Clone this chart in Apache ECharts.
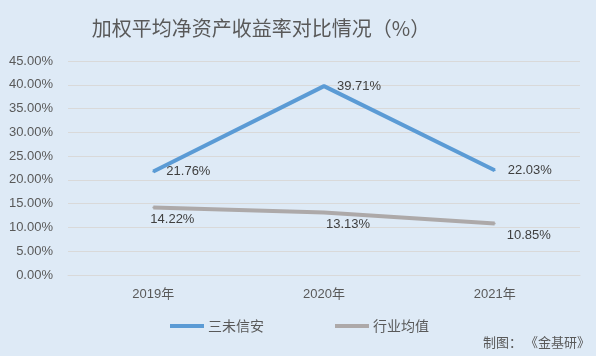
<!DOCTYPE html>
<html><head><meta charset="utf-8">
<script src="https://cdn.jsdelivr.net/npm/echarts@6/dist/echarts.min.js"></script>
<style>html,body{margin:0;padding:0;background:#DEEAF6;}#c{width:596px;height:356px;}</style>
</head><body><div id="c"></div>
<script>
var categories = ['2019年', '2020年', '2021年'];
var sanwei = [21.76, 39.71, 22.03];
var industry = [14.22, 13.13, 10.85];
var seriesNames = ['三未信安', '行业均值'];
var titleText = '加权平均净资产收益率对比情况（%）';
var sourceText = '制图： 《金基研》';

var font = '"Liberation Sans", "Noto Sans CJK SC", sans-serif';
var chart = echarts.init(document.getElementById('c'), null, {renderer: 'canvas'});
var grayOffsets = [[-3, -1], [2, -2], [12, -1]];
chart.setOption({
  backgroundColor: '#DEEAF6',
  animation: false,
  title: {
    text: titleText, left: 256, top: 13, textAlign: 'center',
    textStyle: {fontFamily: '"Noto Sans CJK SC", sans-serif', fontSize: 20, fontWeight: 'normal', color: '#595959'}
  },
  graphic: [{
    type: 'text', right: 6, top: 336,
    style: {text: sourceText, fontFamily: '"Noto Sans CJK SC", sans-serif', fontSize: 13, fill: '#595959'}
  }],
  legend: {
    data: seriesNames, left: 165, top: 314, itemWidth: 34, itemHeight: 4, itemGap: 71,
    icon: 'rect',
    textStyle: {fontFamily: '"Noto Sans CJK SC", sans-serif', fontSize: 14, color: '#595959', padding: [0,0,0,-1]}
  },
  grid: {left: 68, right: 16, top: 61, bottom: 81, containLabel: false},
  xAxis: {
    type: 'category', data: categories,
    axisLine: {lineStyle: {color: '#D9D9D9'}}, axisTick: {show: false},
    axisLabel: {fontFamily: font, fontSize: 13, color: '#595959', margin: 13}
  },
  yAxis: {
    type: 'value', min: 0, max: 45, interval: 5,
    axisLine: {show: false}, axisTick: {show: false},
    splitLine: {lineStyle: {color: '#D9D9D9'}},
    axisLabel: {fontFamily: font, fontSize: 13, color: '#595959', margin: 15,
      formatter: function (v) { return v.toFixed(2) + '%'; }}
  },
  series: [{
    name: seriesNames[0], type: 'line', data: sanwei,
    symbol: 'circle', symbolSize: 2, showSymbol: true,
    lineStyle: {width: 4, color: '#5B9BD5'}, itemStyle: {color: '#5B9BD5'},
    label: {show: true, position: 'right', distance: 12, fontFamily: font, fontSize: 13, color: '#404040',
      formatter: function (p) { return p.value.toFixed(2) + '%'; }}
  }, {
    name: seriesNames[1], type: 'line',
    data: industry.map(function (v, i) { return {value: v, label: {offset: grayOffsets[i]}}; }),
    symbol: 'circle', symbolSize: 2, showSymbol: true,
    lineStyle: {width: 4, color: '#ADA9A9'}, itemStyle: {color: '#ADA9A9'},
    label: {show: true, position: 'bottom', distance: 6, fontFamily: font, fontSize: 13, color: '#404040',
      align: 'left', formatter: function (p) { return p.value.toFixed(2) + '%'; }}
  }]
});
</script></body></html>
